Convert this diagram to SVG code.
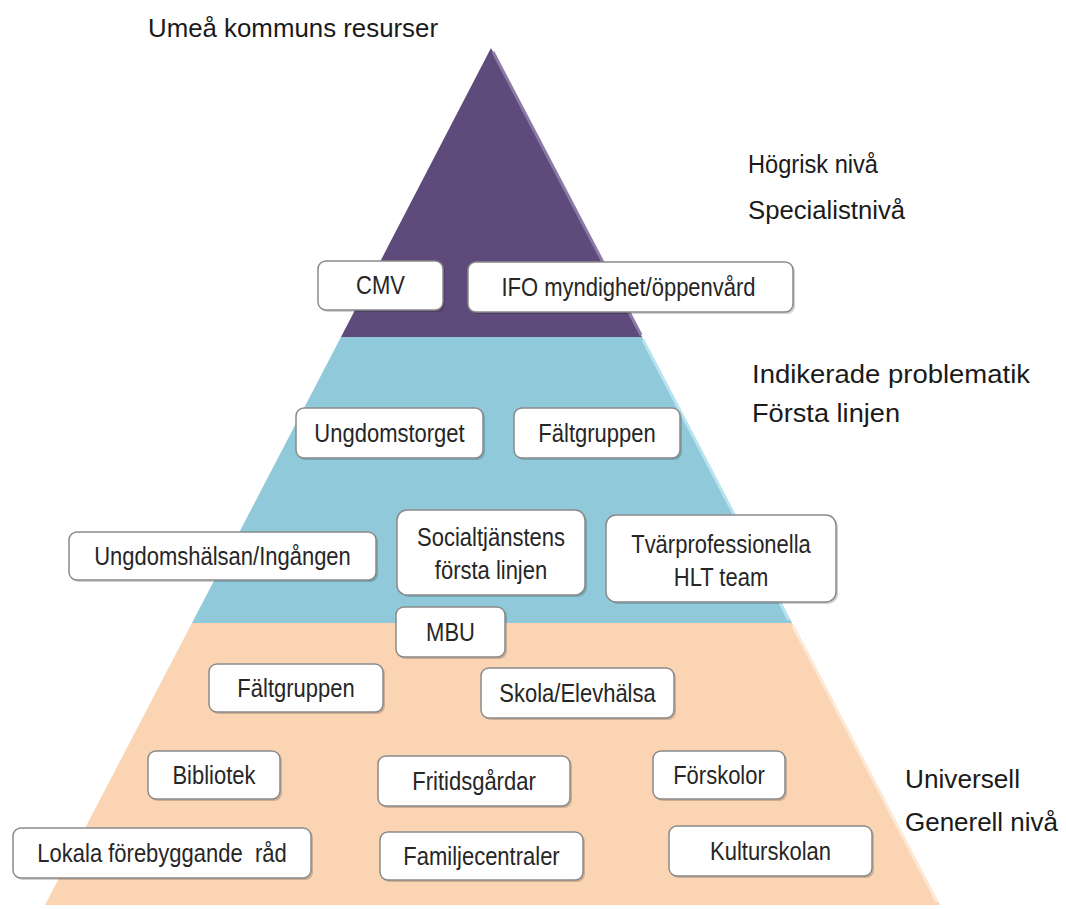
<svg xmlns="http://www.w3.org/2000/svg" width="1066" height="909" viewBox="0 0 1066 909">
<style>
.box{fill:#ffffff;stroke:#8a8a8a;stroke-width:1.5}
.sh{fill:#000;opacity:0.18}
.bt{font-family:"Liberation Sans",Arial,sans-serif;font-size:22px;fill:#262626;text-anchor:middle}
.lbl{font-family:"Liberation Sans",Arial,sans-serif;font-size:25px;fill:#1a1a1a}
</style>
<rect width="1066" height="909" fill="#ffffff"/>
<g id="pyramid">
<polygon points="491,48 642,337 341,337" fill="#5f4b7b"/>
<polygon points="341,337 642,337 792,623 192,623" fill="#8fc9da"/>
<polygon points="192,623 792,623 940,905 45,905" fill="#fbd4b4"/>
<line x1="493" y1="52" x2="641" y2="335" stroke="#8c7aa6" stroke-width="3"/>
<line x1="643" y1="340" x2="789" y2="620" stroke="#b7e2ee" stroke-width="3"/>
<line x1="793" y1="626" x2="937" y2="902" stroke="#fde8d6" stroke-width="3"/>
</g>
<g id="labels">
<text class="lbl" x="148" y="37" textLength="290" lengthAdjust="spacingAndGlyphs">Umeå kommuns resurser</text>
<text class="lbl" x="748" y="173" textLength="130" lengthAdjust="spacingAndGlyphs">Högrisk nivå</text>
<text class="lbl" x="748" y="219" textLength="157" lengthAdjust="spacingAndGlyphs">Specialistnivå</text>
<text class="lbl" x="752" y="383" textLength="278" lengthAdjust="spacingAndGlyphs">Indikerade problematik</text>
<text class="lbl" x="752" y="422" textLength="148" lengthAdjust="spacingAndGlyphs">Första linjen</text>
<text class="lbl" x="905" y="788" textLength="115" lengthAdjust="spacingAndGlyphs">Universell</text>
<text class="lbl" x="905" y="831" textLength="153" lengthAdjust="spacingAndGlyphs">Generell nivå</text>
</g>
<g id="n-cmv"><rect class="sh" x="320" y="263" width="125" height="49" rx="8"/><rect class="box" x="318" y="261" width="125" height="49" rx="8"/><text class="bt" transform="translate(380.5,294) scale(1,1.15)">CMV</text></g>
<g id="n-ifo"><rect class="sh" x="470" y="264" width="325" height="50" rx="8"/><rect class="box" x="468" y="262" width="325" height="50" rx="8"/><text class="bt" transform="translate(628.5,296) scale(1,1.15)">IFO myndighet/öppenvård</text></g>
<g id="n-ungdomstorget"><rect class="sh" x="298" y="410" width="187" height="50" rx="8"/><rect class="box" x="296" y="408" width="187" height="50" rx="8"/><text class="bt" transform="translate(389.5,442) scale(1,1.15)">Ungdomstorget</text></g>
<g id="n-faltgruppen1"><rect class="sh" x="516" y="410" width="166" height="50" rx="8"/><rect class="box" x="514" y="408" width="166" height="50" rx="8"/><text class="bt" transform="translate(597,442) scale(1,1.15)">Fältgruppen</text></g>
<g id="n-ungdomshalsan"><rect class="sh" x="71" y="534" width="307" height="48" rx="8"/><rect class="box" x="69" y="532" width="307" height="48" rx="8"/><text class="bt" transform="translate(222.5,565) scale(1,1.15)">Ungdomshälsan/Ingången</text></g>
<g id="n-socialtjanst"><rect class="sh" x="399" y="512" width="188" height="85" rx="10"/><rect class="box" x="397" y="510" width="188" height="85" rx="10"/><text class="bt" transform="translate(491,546) scale(1,1.15)">Socialtjänstens</text><text class="bt" transform="translate(491,579) scale(1,1.15)">första linjen</text></g>
<g id="n-hlt"><rect class="sh" x="608" y="517" width="230" height="87" rx="10"/><rect class="box" x="606" y="515" width="230" height="87" rx="10"/><text class="bt" transform="translate(721,553) scale(1,1.15)">Tvärprofessionella</text><text class="bt" transform="translate(721,586) scale(1,1.15)">HLT team</text></g>
<g id="n-mbu"><rect class="sh" x="398" y="609" width="109" height="50" rx="8"/><rect class="box" x="396" y="607" width="109" height="50" rx="8"/><text class="bt" transform="translate(450.5,641) scale(1,1.15)">MBU</text></g>
<g id="n-faltgruppen2"><rect class="sh" x="211" y="666" width="174" height="48" rx="8"/><rect class="box" x="209" y="664" width="174" height="48" rx="8"/><text class="bt" transform="translate(296,697) scale(1,1.15)">Fältgruppen</text></g>
<g id="n-skola"><rect class="sh" x="483" y="670" width="193" height="50" rx="8"/><rect class="box" x="481" y="668" width="193" height="50" rx="8"/><text class="bt" transform="translate(577.5,702) scale(1,1.15)">Skola/Elevhälsa</text></g>
<g id="n-bibliotek"><rect class="sh" x="150" y="753" width="132" height="48" rx="8"/><rect class="box" x="148" y="751" width="132" height="48" rx="8"/><text class="bt" transform="translate(214,784) scale(1,1.15)">Bibliotek</text></g>
<g id="n-fritid"><rect class="sh" x="380" y="758" width="192" height="50" rx="8"/><rect class="box" x="378" y="756" width="192" height="50" rx="8"/><text class="bt" transform="translate(474,790) scale(1,1.15)">Fritidsgårdar</text></g>
<g id="n-forskolor"><rect class="sh" x="655" y="753" width="132" height="48" rx="8"/><rect class="box" x="653" y="751" width="132" height="48" rx="8"/><text class="bt" transform="translate(719,784) scale(1,1.15)">Förskolor</text></g>
<g id="n-lokala"><rect class="sh" x="15" y="830" width="298" height="50" rx="8"/><rect class="box" x="13" y="828" width="298" height="50" rx="8"/><text class="bt" transform="translate(162,862) scale(1,1.15)" xml:space="preserve">Lokala förebyggande  råd</text></g>
<g id="n-familj"><rect class="sh" x="382" y="834" width="203" height="48" rx="8"/><rect class="box" x="380" y="832" width="203" height="48" rx="8"/><text class="bt" transform="translate(481.5,865) scale(1,1.15)">Familjecentraler</text></g>
<g id="n-kultur"><rect class="sh" x="671" y="828" width="203" height="50" rx="8"/><rect class="box" x="669" y="826" width="203" height="50" rx="8"/><text class="bt" transform="translate(770.5,860) scale(1,1.15)">Kulturskolan</text></g>
<g id="connectors"></g>
</svg>
